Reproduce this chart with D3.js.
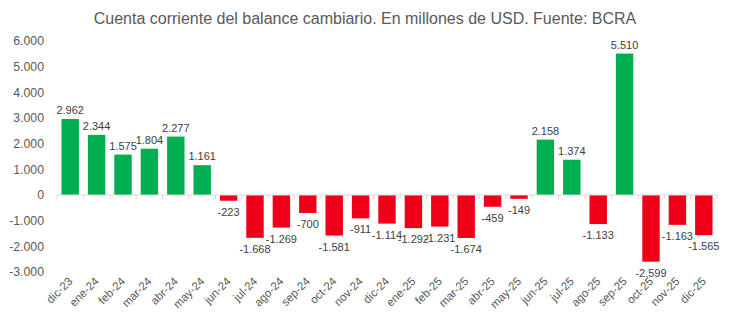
<!DOCTYPE html>
<html>
<head>
<meta charset="utf-8">
<script src="https://cdn.jsdelivr.net/npm/d3@7"></script>
<style>
  html, body { margin: 0; padding: 0; background: #fff; }
  svg { display: block; font-family: "Liberation Sans", Arial, sans-serif; }
</style>
</head>
<body>
<svg id="chart" width="730" height="322"></svg>
<script>
// Monthly current account of the exchange balance (USD millions)
const months = ["dic-23","ene-24","feb-24","mar-24","abr-24","may-24","jun-24","jul-24","ago-24","sep-24","oct-24","nov-24","dic-24","ene-25","feb-25","mar-25","abr-25","may-25","jun-25","jul-25","ago-25","sep-25","oct-25","nov-25","dic-25"];
const values = [2962, 2344, 1575, 1804, 2277, 1161, -223, -1668, -1269, -700, -1581, -911, -1114, -1292, -1231, -1674, -459, -149, 2158, 1374, -1133, 5510, -2599, -1163, -1565];
const yTicks = [6000, 5000, 4000, 3000, 2000, 1000, 0, -1000, -2000, -3000];
const titleText = "Cuenta corriente del balance cambiario. En millones de USD. Fuente: BCRA";

const svg = d3.select("#chart");
// Spanish-style thousands separator, plain hyphen for negatives
const fmt = v => (v < 0 ? "-" : "") + d3.format(",")(Math.abs(v)).replace(/,/g, ".");

const x = d3.scaleBand().domain(months).range([57, 717]).paddingInner(0.34).paddingOuter(0.17);
const y = d3.scaleLinear().domain([-3000, 6000]).range([272, 41]);

svg.append("text")
  .attr("x", 365).attr("y", 24)
  .attr("text-anchor", "middle")
  .attr("font-size", 16).attr("fill", "#595959")
  .text(titleText);

// y axis labels (no axis line)
const yAxis = svg.append("g").attr("transform", "translate(44,0)")
  .call(d3.axisLeft(y).tickValues(yTicks).tickSize(0).tickPadding(0).tickFormat(fmt));
yAxis.select(".domain").remove();
yAxis.selectAll("text").attr("font-size", 12.3).attr("fill", "#595959")
  .attr("font-family", "Liberation Sans, Arial, sans-serif");

// bars
svg.append("g").selectAll("rect").data(values).join("rect")
  .attr("x", (d, i) => x(months[i]))
  .attr("width", x.bandwidth())
  .attr("y", d => y(Math.max(0, d)))
  .attr("height", d => Math.abs(y(d) - y(0)))
  .attr("fill", d => d >= 0 ? "#00B050" : "#F00018");

// zero line with category tick marks
const step = x.step();
const zeroAxis = svg.append("g").attr("transform", `translate(0,${y(0)})`);
zeroAxis.append("line").attr("x1", 57).attr("x2", 717).attr("stroke", "#d9d9d9").attr("stroke-width", 1);
zeroAxis.selectAll("line.tk").data(d3.range(months.length + 1)).join("line")
  .attr("class", "tk")
  .attr("x1", i => 57 + i * step).attr("x2", i => 57 + i * step)
  .attr("y1", 0).attr("y2", 4)
  .attr("stroke", "#d9d9d9");

// value labels
svg.append("g").selectAll("text").data(values).join("text")
  .attr("x", (d, i) => x(months[i]) + x.bandwidth() / 2)
  .attr("y", d => d >= 0 ? y(d) - 5 : y(d) + 15)
  .attr("text-anchor", "middle")
  .attr("font-size", 11).attr("fill", "#404040")
  .text(fmt);

// rotated month labels
svg.append("g").selectAll("text").data(months).join("text")
  .attr("transform", m => `translate(${x(m) + x.bandwidth() / 2 + 3},${282}) rotate(-45)`)
  .attr("text-anchor", "end")
  .attr("font-size", 11.5).attr("fill", "#595959")
  .text(m => m);
</script>
</body>
</html>
